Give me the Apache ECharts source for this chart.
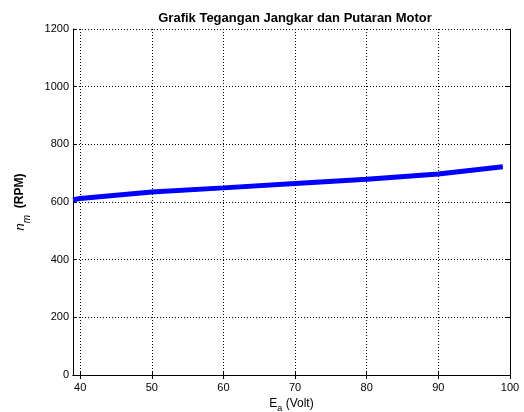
<!DOCTYPE html>
<html><head><meta charset="utf-8">
<script src="https://cdn.jsdelivr.net/npm/echarts@6/dist/echarts.min.js"></script>
<style>html,body{margin:0;padding:0;background:#fff}#c{width:524px;height:412px}</style>
</head><body><div id="c"></div>
<script>
const voltage = [39, 40, 50, 60, 70, 80, 90, 99];
const rpm = [608, 612, 635, 649, 664, 679, 697, 722];
const xTicks = [40, 50, 60, 70, 80, 90, 100];
const yTicks = [0, 200, 400, 600, 800, 1000, 1200];
const titleText = 'Grafik Tegangan Jangkar dan Putaran Motor';

const FONT = 'Liberation Sans, Arial, Helvetica, sans-serif';
const chart = echarts.init(document.getElementById('c'), null, {renderer: 'canvas'});
const baseX = {
  type: 'value', min: 39, max: 100,
  axisLine: {show: true, lineStyle: {color: '#000', width: 1}},
  axisTick: {show: true, inside: true, length: 4, lineStyle: {color: '#000'}, customValues: xTicks},
  axisLabel: {show: true, color: '#000', fontSize: 11, fontFamily: FONT, margin: 7, customValues: xTicks},
  splitLine: {show: true, lineStyle: {color: '#000', type: [1, 2], width: 1}}
};
const baseY = {
  type: 'value', min: 0, max: 1200,
  axisLine: {show: true, lineStyle: {color: '#000', width: 1}},
  axisTick: {show: true, inside: true, length: 4, lineStyle: {color: '#000'}, customValues: yTicks},
  axisLabel: {show: true, color: '#000', fontSize: 11, fontFamily: FONT, margin: 4,
    customValues: yTicks, formatter: v => String(v)},
  splitLine: {show: true, lineStyle: {color: '#000', type: [1, 2], width: 1}}
};
chart.setOption({
  animation: false,
  backgroundColor: '#fff',
  title: {
    text: titleText, left: 290, top: 7, textAlign: 'center',
    textStyle: {fontSize: 13, fontWeight: 'bold', color: '#000', fontFamily: FONT}
  },
  grid: {left: 73, right: 14, top: 29, bottom: 37, outerBoundsMode: 'none', containLabel: false},
  xAxis: [
    Object.assign({}, baseX, {
      position: 'bottom',
      name: '{m|E}{s|a}{m| (Volt)}', nameLocation: 'middle', nameGap: 14,
      nameTextStyle: {
        rich: {
          m: {fontSize: 12, fontFamily: FONT, color: '#000', lineHeight: 14},
          s: {fontSize: 9, fontFamily: FONT, color: '#000', lineHeight: 18, verticalAlign: 'bottom'}
        }
      }
    }),
    Object.assign({}, baseX, {
      position: 'top',
      axisLabel: {show: false},
      splitLine: {show: false}
    })
  ],
  yAxis: [
    Object.assign({}, baseY, {
      position: 'left',
      name: '{i|n}{s|m}{b|  (RPM)}', nameLocation: 'middle', nameGap: 41, nameRotate: 90,
      nameTextStyle: {
        rich: {
          i: {fontSize: 13, fontStyle: 'italic', fontFamily: FONT, color: '#000', lineHeight: 18},
          s: {fontSize: 10, fontStyle: 'italic', fontFamily: FONT, color: '#000', lineHeight: 24, verticalAlign: 'bottom'},
          b: {fontSize: 12, fontWeight: 'bold', fontFamily: FONT, color: '#000', lineHeight: 18}
        }
      }
    }),
    Object.assign({}, baseY, {
      position: 'right',
      axisLabel: {show: false},
      splitLine: {show: false}
    })
  ],
  series: [{
    type: 'line',
    data: voltage.map((v, i) => [v, rpm[i]]),
    showSymbol: false,
    lineStyle: {color: '#0000ff', width: 5},
    itemStyle: {color: '#0000ff'},
    clip: true
  }]
});
</script></body></html>
